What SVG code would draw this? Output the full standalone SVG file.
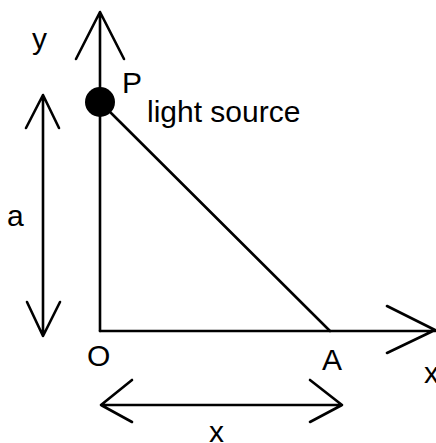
<svg xmlns="http://www.w3.org/2000/svg" width="436" height="443" viewBox="0 0 436 443">
<style>
.ln{stroke:#000;stroke-width:2.6;fill:none;stroke-linecap:round;stroke-linejoin:round}
.t{font-family:"Liberation Sans",Arial,sans-serif;font-size:30px;fill:#000}
</style>
<rect width="436" height="443" fill="#fff"/>
<g id="connectors">
<path class="ln" d="M100,331 V12 M76,59 L100,12 L124,59"/>
<path class="ln" d="M100,331 H435 M387,306 L435,330 L387,353"/>
<path class="ln" d="M100,102 L330,331"/>
<path class="ln" d="M43,95 V336 M26,128 L43,95 L59,128 M27,302 L43,336 L60,302"/>
<path class="ln" d="M101,405 H342 M132,380 L101,405 L132,422 M310,380 L342,405 L310,422"/>
</g>
<g id="P"><circle cx="100" cy="102" r="15" fill="#000"/><text class="t" x="122" y="93" font-size="28">P</text></g>
<g id="light-source"><text class="t" x="147" y="122">light source</text></g>
<g id="O"><text class="t" x="87" y="366">O</text></g>
<g id="A"><text class="t" x="322" y="370">A</text></g>
<g id="label-y"><text class="t" x="32" y="49">y</text></g>
<g id="label-a"><text class="t" x="7" y="226">a</text></g>
<g id="label-x-axis"><text class="t" x="424" y="383">x</text></g>
<g id="label-x-dim"><text class="t" x="209" y="442">x</text></g>
</svg>
